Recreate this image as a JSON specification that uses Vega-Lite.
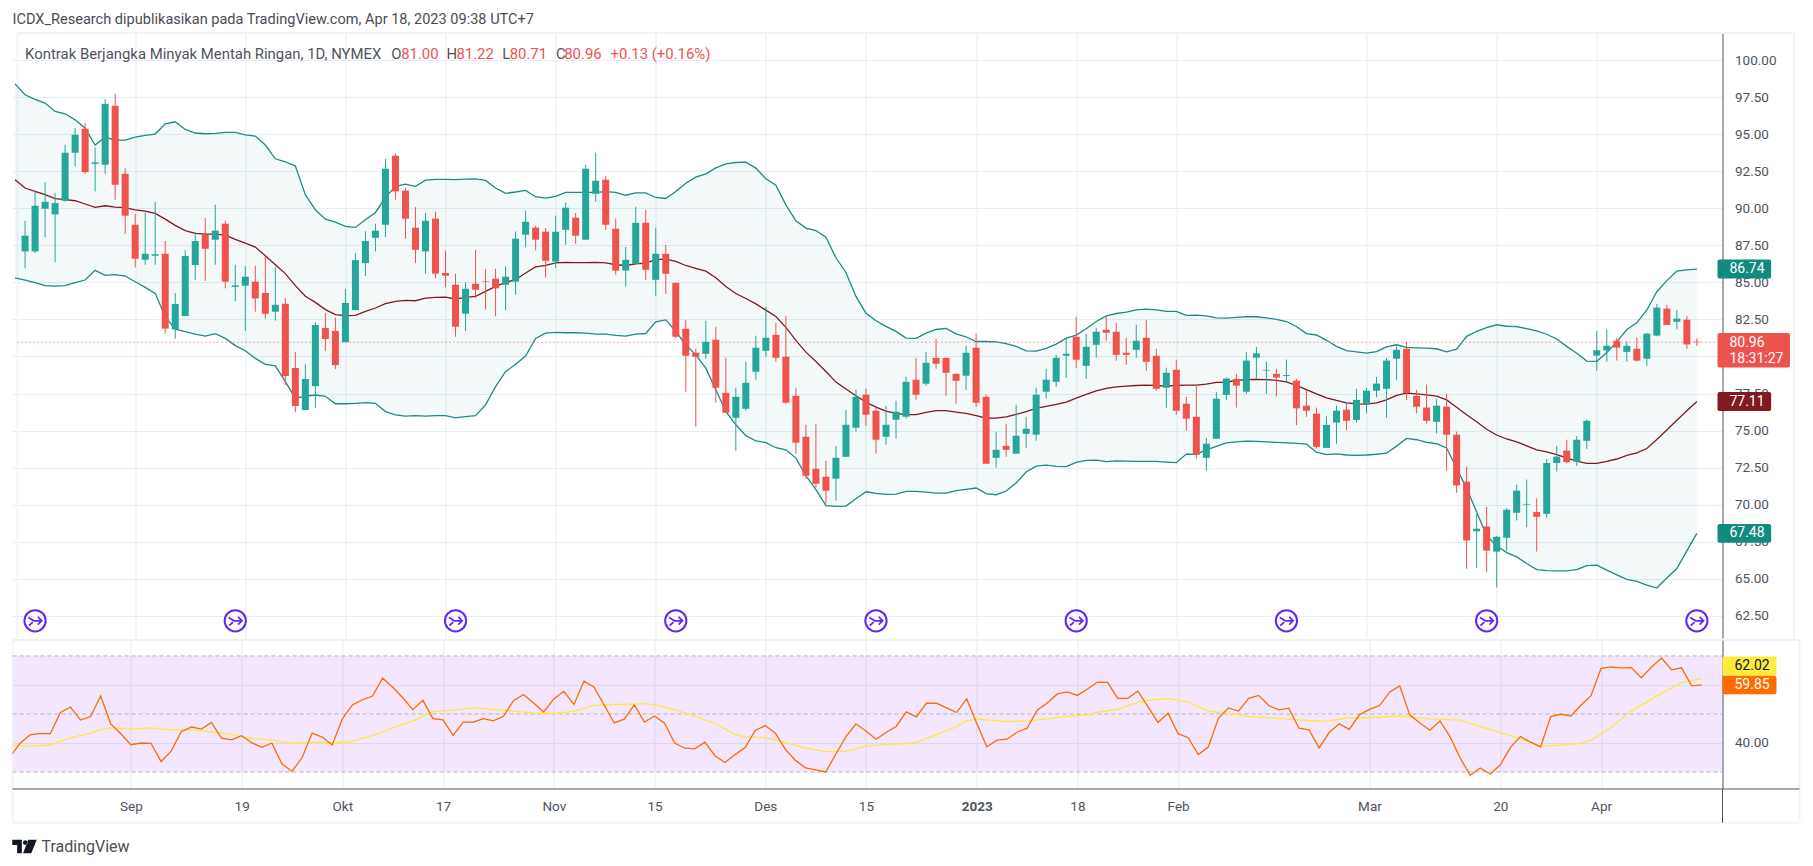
{
  "$schema": "https://vega.github.io/schema/vega-lite/v6.json",
  "background": "#ffffff",
  "padding": {"left": 11.5, "top": 11, "right": 0, "bottom": 0},
  "title": {"text": "ICDX_Research dipublikasikan pada TradingView.com, Apr 18, 2023 09:38 UTC+7", "anchor": "start", "frame": "group", "font": "Roboto", "fontSize": 14.55, "fontWeight": "normal", "color": "#4a4d57", "offset": 4.7},
  "config": {
    "font": "Roboto",
    "view": {"stroke": null},
    "axis": {"title": null, "gridColor": "#e6edf3", "gridWidth": 1, "labelColor": "#50535e", "labelFontSize": 13.5, "labelFont": "Roboto", "ticks": false, "labelOverlap": false}
  },
  "datasets": {
    "candles": [
      {"i":0,"o":87.09,"h":89.16,"l":85.95,"c":88.15},{"i":1,"o":87.09,"h":91.14,"l":86.98,"c":90.17},{"i":2,"o":89.97,"h":91.75,"l":88.04,"c":90.44},{"i":3,"o":89.59,"h":91.03,"l":86.35,"c":90.35},{"i":4,"o":90.51,"h":94.29,"l":90.44,"c":93.75},{"i":5,"o":93.75,"h":95.41,"l":92.83,"c":94.96},{"i":6,"o":95.37,"h":95.75,"l":92.33,"c":92.44},{"i":7,"o":93.0,"h":94.11,"l":91.14,"c":93.1},{"i":8,"o":92.94,"h":97.37,"l":92.33,"c":97.05},{"i":9,"o":96.92,"h":97.73,"l":90.58,"c":91.59},
      {"i":10,"o":92.33,"h":92.71,"l":88.28,"c":89.5},{"i":11,"o":88.89,"h":89.63,"l":86.01,"c":86.6},{"i":12,"o":86.53,"h":89.72,"l":86.19,"c":86.93},{"i":13,"o":86.8,"h":90.44,"l":86.19,"c":86.9},{"i":14,"o":86.93,"h":87.79,"l":81.54,"c":81.88},{"i":15,"o":81.83,"h":84.28,"l":81.2,"c":83.54},{"i":16,"o":82.73,"h":87.18,"l":82.73,"c":86.78},{"i":17,"o":86.17,"h":88.4,"l":85.16,"c":87.79},{"i":18,"o":88.22,"h":89.34,"l":85.11,"c":87.27},{"i":19,"o":87.88,"h":90.24,"l":86.19,"c":88.49},
      {"i":20,"o":88.96,"h":89.16,"l":84.6,"c":85.05},{"i":21,"o":84.7,"h":86.19,"l":83.72,"c":84.8},{"i":22,"o":84.78,"h":86.1,"l":81.72,"c":85.38},{"i":23,"o":85.05,"h":86.13,"l":83.02,"c":83.92},{"i":24,"o":84.28,"h":86.76,"l":82.55,"c":82.89},{"i":25,"o":83.02,"h":86.01,"l":82.42,"c":83.49},{"i":26,"o":83.56,"h":83.94,"l":78.07,"c":78.68},{"i":27,"o":79.22,"h":80.3,"l":76.25,"c":76.66},{"i":28,"o":76.39,"h":79.47,"l":76.39,"c":78.48},{"i":29,"o":78.0,"h":82.3,"l":76.52,"c":82.12},
      {"i":30,"o":81.92,"h":82.93,"l":80.37,"c":81.18},{"i":31,"o":81.72,"h":82.62,"l":79.15,"c":79.42},{"i":32,"o":80.97,"h":84.55,"l":80.97,"c":83.61},{"i":33,"o":83.13,"h":86.98,"l":83.13,"c":86.5},{"i":34,"o":86.3,"h":88.46,"l":85.43,"c":87.79},{"i":35,"o":88.01,"h":88.96,"l":87.09,"c":88.49},{"i":36,"o":88.89,"h":93.34,"l":88.04,"c":92.67},{"i":37,"o":93.55,"h":93.68,"l":90.58,"c":91.14},{"i":38,"o":91.19,"h":91.37,"l":87.95,"c":89.3},{"i":39,"o":88.69,"h":90.08,"l":86.3,"c":87.2},
      {"i":40,"o":87.09,"h":89.68,"l":85.59,"c":89.16},{"i":41,"o":89.3,"h":89.77,"l":85.27,"c":85.59},{"i":42,"o":85.63,"h":87.14,"l":84.66,"c":85.45},{"i":43,"o":84.84,"h":85.59,"l":81.33,"c":82.01},{"i":44,"o":82.89,"h":85.0,"l":81.72,"c":84.57},{"i":45,"o":84.91,"h":87.2,"l":83.94,"c":84.5},{"i":46,"o":85.09,"h":85.9,"l":83.16,"c":85.05},{"i":47,"o":85.25,"h":85.92,"l":82.71,"c":84.6},{"i":48,"o":84.84,"h":86.08,"l":83.11,"c":85.38},{"i":49,"o":85.05,"h":88.44,"l":84.17,"c":87.95},
      {"i":50,"o":88.22,"h":89.86,"l":87.36,"c":89.09},{"i":51,"o":88.69,"h":88.82,"l":87.16,"c":87.88},{"i":52,"o":88.42,"h":88.67,"l":85.32,"c":86.46},{"i":53,"o":86.4,"h":89.5,"l":85.97,"c":88.42},{"i":54,"o":88.55,"h":90.38,"l":87.54,"c":90.04},{"i":55,"o":89.36,"h":89.68,"l":87.61,"c":88.15},{"i":56,"o":87.88,"h":92.94,"l":87.88,"c":92.67},{"i":57,"o":90.98,"h":93.75,"l":90.44,"c":91.86},{"i":58,"o":91.93,"h":92.2,"l":88.55,"c":88.89},{"i":59,"o":88.62,"h":89.3,"l":85.52,"c":85.79},
      {"i":60,"o":85.8,"h":87.4,"l":84.72,"c":86.52},{"i":61,"o":86.25,"h":90.1,"l":86.25,"c":89.02},{"i":62,"o":89.02,"h":89.9,"l":85.17,"c":85.85},{"i":63,"o":85.17,"h":88.68,"l":84.09,"c":86.93},{"i":64,"o":86.93,"h":87.53,"l":84.23,"c":85.58},{"i":65,"o":84.97,"h":84.97,"l":81.22,"c":81.33},{"i":66,"o":81.87,"h":82.47,"l":77.62,"c":80.05},{"i":67,"o":80.25,"h":80.52,"l":75.26,"c":79.98},{"i":68,"o":80.18,"h":82.41,"l":79.84,"c":80.99},{"i":69,"o":81.13,"h":82.0,"l":76.88,"c":77.89},
      {"i":70,"o":77.55,"h":79.91,"l":76.2,"c":76.2},{"i":71,"o":75.86,"h":77.89,"l":73.64,"c":77.28},{"i":72,"o":76.47,"h":79.64,"l":76.34,"c":78.22},{"i":73,"o":78.97,"h":81.4,"l":78.43,"c":80.59},{"i":74,"o":80.38,"h":83.35,"l":79.98,"c":81.26},{"i":75,"o":81.46,"h":82.27,"l":79.64,"c":79.91},{"i":76,"o":79.98,"h":82.74,"l":76.81,"c":76.88},{"i":77,"o":77.35,"h":77.89,"l":73.44,"c":74.18},{"i":78,"o":74.58,"h":75.39,"l":71.75,"c":71.95},{"i":79,"o":72.42,"h":75.46,"l":71.14,"c":71.41},
      {"i":80,"o":71.88,"h":72.96,"l":70.06,"c":70.94},{"i":81,"o":71.75,"h":73.97,"l":70.26,"c":73.16},{"i":82,"o":73.23,"h":76.4,"l":73.23,"c":75.39},{"i":83,"o":75.19,"h":77.75,"l":74.92,"c":77.28},{"i":84,"o":77.42,"h":77.82,"l":75.32,"c":76.07},{"i":85,"o":76.34,"h":76.54,"l":73.44,"c":74.38},{"i":86,"o":74.58,"h":76.67,"l":74.04,"c":75.39},{"i":87,"o":75.73,"h":77.01,"l":74.45,"c":76.27},{"i":88,"o":75.93,"h":78.63,"l":75.8,"c":78.29},{"i":89,"o":78.43,"h":79.91,"l":77.08,"c":77.42},
      {"i":90,"o":78.16,"h":80.32,"l":78.02,"c":79.57},{"i":91,"o":79.91,"h":81.19,"l":79.17,"c":79.51},{"i":92,"o":79.91,"h":79.91,"l":77.35,"c":78.9},{"i":93,"o":78.83,"h":78.83,"l":76.81,"c":78.36},{"i":94,"o":78.7,"h":80.72,"l":77.75,"c":80.25},{"i":95,"o":80.59,"h":81.53,"l":76.6,"c":76.88},{"i":96,"o":77.28,"h":77.42,"l":72.76,"c":72.76},{"i":97,"o":73.16,"h":74.92,"l":72.49,"c":73.7},{"i":98,"o":73.97,"h":75.46,"l":73.23,"c":73.7},{"i":99,"o":73.44,"h":76.74,"l":73.44,"c":74.65},
      {"i":100,"o":74.78,"h":75.93,"l":73.84,"c":75.12},{"i":101,"o":74.72,"h":77.89,"l":74.31,"c":77.42},{"i":102,"o":77.62,"h":79.17,"l":77.15,"c":78.43},{"i":103,"o":78.29,"h":80.11,"l":77.96,"c":79.91},{"i":104,"o":80.05,"h":81.19,"l":78.56,"c":80.18},{"i":105,"o":81.33,"h":82.68,"l":79.24,"c":79.78},{"i":106,"o":79.37,"h":81.53,"l":78.49,"c":80.65},{"i":107,"o":80.79,"h":81.93,"l":79.91,"c":81.67},{"i":108,"o":81.8,"h":82.68,"l":81.06,"c":81.6},{"i":109,"o":81.67,"h":82.27,"l":79.71,"c":80.11},
      {"i":110,"o":80.25,"h":81.26,"l":79.44,"c":80.11},{"i":111,"o":80.45,"h":82.14,"l":79.91,"c":81.06},{"i":112,"o":81.26,"h":82.47,"l":79.03,"c":79.64},{"i":113,"o":80.05,"h":80.52,"l":77.69,"c":77.82},{"i":114,"o":77.89,"h":79.24,"l":76.54,"c":78.9},{"i":115,"o":79.1,"h":79.78,"l":76.07,"c":76.34},{"i":116,"o":76.81,"h":77.28,"l":74.99,"c":75.8},{"i":117,"o":75.93,"h":78.09,"l":73.1,"c":73.37},{"i":118,"o":73.16,"h":74.51,"l":72.29,"c":74.11},{"i":119,"o":74.45,"h":77.62,"l":74.45,"c":77.15},
      {"i":120,"o":77.41,"h":78.58,"l":77.07,"c":78.51},{"i":121,"o":78.49,"h":78.83,"l":76.55,"c":78.03},{"i":122,"o":77.62,"h":80.31,"l":77.48,"c":79.72},{"i":123,"o":79.92,"h":80.65,"l":78.49,"c":80.2},{"i":124,"o":79.05,"h":79.65,"l":77.48,"c":79.1},{"i":125,"o":78.83,"h":79.17,"l":77.3,"c":78.58},{"i":126,"o":78.68,"h":79.79,"l":78.26,"c":78.74},{"i":127,"o":78.37,"h":78.51,"l":75.36,"c":76.5},{"i":128,"o":76.68,"h":77.71,"l":75.93,"c":76.34},{"i":129,"o":76.14,"h":76.55,"l":73.79,"c":73.9},
      {"i":130,"o":73.83,"h":76.0,"l":73.83,"c":75.38},{"i":131,"o":75.54,"h":76.68,"l":74.11,"c":76.34},{"i":132,"o":76.41,"h":76.87,"l":75.02,"c":75.66},{"i":133,"o":75.72,"h":77.82,"l":75.54,"c":77.07},{"i":134,"o":76.8,"h":77.89,"l":76.16,"c":77.69},{"i":135,"o":77.69,"h":78.62,"l":77.25,"c":78.17},{"i":136,"o":77.82,"h":79.9,"l":75.86,"c":79.72},{"i":137,"o":79.85,"h":80.67,"l":78.39,"c":80.45},{"i":138,"o":80.52,"h":80.97,"l":77.07,"c":77.53},{"i":139,"o":77.34,"h":77.75,"l":76.16,"c":76.61},
      {"i":140,"o":76.55,"h":78.1,"l":75.47,"c":75.66},{"i":141,"o":75.59,"h":77.14,"l":74.81,"c":76.68},{"i":142,"o":76.61,"h":77.48,"l":72.28,"c":74.72},{"i":143,"o":74.72,"h":74.93,"l":70.8,"c":71.3},{"i":144,"o":71.55,"h":72.56,"l":65.67,"c":67.58},{"i":145,"o":68.2,"h":69.38,"l":65.73,"c":68.38},{"i":146,"o":68.52,"h":69.86,"l":65.44,"c":66.9},{"i":147,"o":66.83,"h":67.9,"l":64.41,"c":67.83},{"i":148,"o":67.77,"h":69.77,"l":66.88,"c":69.66},{"i":149,"o":69.45,"h":71.35,"l":68.93,"c":70.94},
      {"i":150,"o":70.0,"h":71.69,"l":68.47,"c":70.05},{"i":151,"o":69.5,"h":70.41,"l":66.83,"c":69.18},{"i":152,"o":69.38,"h":73.08,"l":69.11,"c":72.81},{"i":153,"o":72.81,"h":73.95,"l":72.24,"c":73.24},{"i":154,"o":73.65,"h":74.38,"l":72.78,"c":72.87},{"i":155,"o":72.9,"h":74.63,"l":72.62,"c":74.38},{"i":156,"o":74.31,"h":75.75,"l":73.76,"c":75.66},{"i":157,"o":80.06,"h":81.72,"l":79.03,"c":80.42},{"i":158,"o":80.4,"h":81.82,"l":79.65,"c":80.72},{"i":159,"o":81.06,"h":81.27,"l":79.72,"c":80.6},
      {"i":160,"o":80.31,"h":81.0,"l":79.65,"c":80.72},{"i":161,"o":80.52,"h":81.27,"l":79.65,"c":79.72},{"i":162,"o":79.85,"h":81.59,"l":79.37,"c":81.54},{"i":163,"o":81.41,"h":83.55,"l":81.36,"c":83.3},{"i":164,"o":83.23,"h":83.5,"l":82.13,"c":82.13},{"i":165,"o":82.34,"h":83.14,"l":81.82,"c":82.55},{"i":166,"o":82.48,"h":82.73,"l":80.52,"c":80.81},{"i":167,"o":81.0,"h":81.22,"l":80.71,"c":80.96}
    ],
    "bands": [
      {"i":-1,"upper":98.4,"basis":91.93,"lower":85.31},{"i":0,"upper":97.66,"basis":91.37,"lower":85.16},{"i":1,"upper":97.35,"basis":91.14,"lower":84.98},{"i":2,"upper":97.1,"basis":90.92,"lower":84.78},{"i":3,"upper":96.54,"basis":90.65,"lower":84.75},{"i":4,"upper":96.38,"basis":90.58,"lower":84.78},{"i":5,"upper":95.97,"basis":90.51,"lower":84.98},{"i":6,"upper":95.41,"basis":90.29,"lower":85.16},{"i":7,"upper":94.27,"basis":90.06,"lower":85.81},{"i":8,"upper":94.81,"basis":90.17,"lower":85.47},{"i":9,"upper":94.6,"basis":90.08,"lower":85.52},
      {"i":10,"upper":94.6,"basis":90.04,"lower":85.43},{"i":11,"upper":94.81,"basis":89.9,"lower":85.04},{"i":12,"upper":94.92,"basis":89.81,"lower":84.66},{"i":13,"upper":95.01,"basis":89.66,"lower":84.26},{"i":14,"upper":95.7,"basis":89.27,"lower":82.68},{"i":15,"upper":95.84,"basis":88.85,"lower":81.85},{"i":16,"upper":95.32,"basis":88.49,"lower":81.67},{"i":17,"upper":95.08,"basis":88.31,"lower":81.51},{"i":18,"upper":95.03,"basis":88.26,"lower":81.38},{"i":19,"upper":95.05,"basis":88.26,"lower":81.54},
      {"i":20,"upper":95.12,"basis":88.19,"lower":81.22},{"i":21,"upper":95.12,"basis":87.9,"lower":80.73},{"i":22,"upper":94.96,"basis":87.65,"lower":80.39},{"i":23,"upper":94.87,"basis":87.38,"lower":79.87},{"i":24,"upper":94.27,"basis":86.8,"lower":79.47},{"i":25,"upper":93.34,"basis":86.19,"lower":79.36},{"i":26,"upper":93.14,"basis":85.59,"lower":78.3},{"i":27,"upper":92.85,"basis":84.78,"lower":77.17},{"i":28,"upper":90.92,"basis":84.06,"lower":77.33},{"i":29,"upper":89.9,"basis":83.65,"lower":77.4},
      {"i":30,"upper":89.27,"basis":83.16,"lower":77.31},{"i":31,"upper":89.07,"basis":82.82,"lower":76.81},{"i":32,"upper":88.78,"basis":82.75,"lower":76.81},{"i":33,"upper":88.71,"basis":82.77,"lower":76.84},{"i":34,"upper":89.23,"basis":83.04,"lower":76.88},{"i":35,"upper":89.72,"basis":83.27,"lower":76.84},{"i":36,"upper":90.74,"basis":83.56,"lower":76.28},{"i":37,"upper":91.48,"basis":83.72,"lower":76.06},{"i":38,"upper":91.63,"basis":83.79,"lower":75.97},{"i":39,"upper":91.48,"basis":83.76,"lower":76.01},
      {"i":40,"upper":91.9,"basis":83.94,"lower":75.97},{"i":41,"upper":91.95,"basis":83.99,"lower":76.01},{"i":42,"upper":91.95,"basis":84.01,"lower":76.01},{"i":43,"upper":91.93,"basis":83.88,"lower":75.86},{"i":44,"upper":91.97,"basis":83.99,"lower":75.94},{"i":45,"upper":91.99,"basis":84.06,"lower":76.01},{"i":46,"upper":91.88,"basis":84.39,"lower":76.73},{"i":47,"upper":91.37,"basis":84.73,"lower":77.96},{"i":48,"upper":91.01,"basis":85.0,"lower":78.97},{"i":49,"upper":91.1,"basis":85.18,"lower":79.47},
      {"i":50,"upper":91.21,"basis":85.63,"lower":80.03},{"i":51,"upper":90.78,"basis":86.04,"lower":81.22},{"i":52,"upper":90.69,"basis":86.15,"lower":81.58},{"i":53,"upper":90.8,"basis":86.31,"lower":81.63},{"i":54,"upper":91.07,"basis":86.35,"lower":81.6},{"i":55,"upper":91.07,"basis":86.33,"lower":81.6},{"i":56,"upper":91.07,"basis":86.33,"lower":81.58},{"i":57,"upper":91.07,"basis":86.35,"lower":81.51},{"i":58,"upper":91.12,"basis":86.31,"lower":81.51},{"i":59,"upper":91.07,"basis":86.19,"lower":81.42},
      {"i":60,"upper":90.88,"basis":86.14,"lower":81.37},{"i":61,"upper":91.04,"basis":86.25,"lower":81.51},{"i":62,"upper":91.04,"basis":86.3,"lower":81.55},{"i":63,"upper":90.73,"basis":86.54,"lower":82.34},{"i":64,"upper":90.66,"basis":86.57,"lower":82.47},{"i":65,"upper":91.13,"basis":86.41,"lower":81.69},{"i":66,"upper":91.69,"basis":86.14,"lower":80.79},{"i":67,"upper":92.1,"basis":85.94,"lower":80.11},{"i":68,"upper":92.32,"basis":85.76,"lower":79.21},{"i":69,"upper":92.73,"basis":85.31,"lower":77.75},
      {"i":70,"upper":93.0,"basis":84.72,"lower":76.29},{"i":71,"upper":93.09,"basis":84.25,"lower":75.39},{"i":72,"upper":93.11,"basis":83.91,"lower":74.65},{"i":73,"upper":92.71,"basis":83.55,"lower":74.31},{"i":74,"upper":91.99,"basis":83.13,"lower":74.18},{"i":75,"upper":91.56,"basis":82.7,"lower":73.84},{"i":76,"upper":90.23,"basis":81.96,"lower":73.7},{"i":77,"upper":89.15,"basis":81.08,"lower":73.14},{"i":78,"upper":88.66,"basis":80.29,"lower":71.95},{"i":79,"upper":88.5,"basis":79.66,"lower":71.01},
      {"i":80,"upper":88.05,"basis":78.99,"lower":69.93},{"i":81,"upper":86.66,"basis":78.27,"lower":69.88},{"i":82,"upper":85.67,"basis":77.8,"lower":69.9},{"i":83,"upper":84.05,"basis":77.35,"lower":70.4},{"i":84,"upper":82.92,"basis":76.92,"lower":70.87},{"i":85,"upper":82.41,"basis":76.58,"lower":70.76},{"i":86,"upper":82.03,"basis":76.31,"lower":70.69},{"i":87,"upper":81.69,"basis":76.16,"lower":70.71},{"i":88,"upper":81.24,"basis":76.07,"lower":70.89},{"i":89,"upper":81.22,"basis":76.07,"lower":70.89},
      {"i":90,"upper":81.58,"basis":76.22,"lower":70.85},{"i":91,"upper":81.82,"basis":76.34,"lower":70.78},{"i":92,"upper":81.89,"basis":76.34,"lower":70.78},{"i":93,"upper":81.53,"basis":76.25,"lower":70.94},{"i":94,"upper":81.33,"basis":76.16,"lower":71.03},{"i":95,"upper":81.01,"basis":76.0,"lower":71.12},{"i":96,"upper":81.01,"basis":75.84,"lower":70.74},{"i":97,"upper":80.99,"basis":75.84,"lower":70.67},{"i":98,"upper":80.86,"basis":75.93,"lower":70.92},{"i":99,"upper":80.68,"basis":76.09,"lower":71.46},
      {"i":100,"upper":80.38,"basis":76.27,"lower":72.2},{"i":101,"upper":80.36,"basis":76.49,"lower":72.6},{"i":102,"upper":80.54,"basis":76.63,"lower":72.67},{"i":103,"upper":80.83,"basis":76.76,"lower":72.58},{"i":104,"upper":81.24,"basis":76.92,"lower":72.56},{"i":105,"upper":81.44,"basis":77.19,"lower":72.85},{"i":106,"upper":81.87,"basis":77.44,"lower":72.99},{"i":107,"upper":82.36,"basis":77.68,"lower":73.01},{"i":108,"upper":82.74,"basis":77.84,"lower":72.9},{"i":109,"upper":82.9,"basis":77.95,"lower":72.96},
      {"i":110,"upper":82.99,"basis":78.0,"lower":72.94},{"i":111,"upper":83.15,"basis":78.04,"lower":72.92},{"i":112,"upper":83.19,"basis":78.07,"lower":72.92},{"i":113,"upper":83.15,"basis":78.04,"lower":72.92},{"i":114,"upper":83.04,"basis":78.0,"lower":72.87},{"i":115,"upper":83.04,"basis":78.04,"lower":72.83},{"i":116,"upper":82.77,"basis":78.07,"lower":73.41},{"i":117,"upper":82.79,"basis":78.07,"lower":73.39},{"i":118,"upper":82.74,"basis":78.13,"lower":73.7},{"i":119,"upper":82.61,"basis":78.25,"lower":73.93},
      {"i":120,"upper":82.59,"basis":78.26,"lower":74.17},{"i":121,"upper":82.64,"basis":78.39,"lower":74.24},{"i":122,"upper":82.68,"basis":78.44,"lower":74.29},{"i":123,"upper":82.68,"basis":78.46,"lower":74.27},{"i":124,"upper":82.61,"basis":78.44,"lower":74.24},{"i":125,"upper":82.5,"basis":78.39,"lower":74.2},{"i":126,"upper":82.36,"basis":78.28,"lower":74.17},{"i":127,"upper":82.02,"basis":78.05,"lower":74.13},{"i":128,"upper":81.54,"basis":77.76,"lower":74.08},{"i":129,"upper":81.45,"basis":77.48,"lower":73.54},
      {"i":130,"upper":81.09,"basis":77.21,"lower":73.38},{"i":131,"upper":80.68,"basis":77.03,"lower":73.42},{"i":132,"upper":80.4,"basis":76.87,"lower":73.35},{"i":133,"upper":80.31,"basis":76.8,"lower":73.33},{"i":134,"upper":80.22,"basis":76.78,"lower":73.35},{"i":135,"upper":80.33,"basis":76.87,"lower":73.4},{"i":136,"upper":80.65,"basis":77.07,"lower":73.47},{"i":137,"upper":80.79,"basis":77.37,"lower":73.95},{"i":138,"upper":80.61,"basis":77.53,"lower":74.47},{"i":139,"upper":80.58,"basis":77.48,"lower":74.38},
      {"i":140,"upper":80.56,"basis":77.41,"lower":74.2},{"i":141,"upper":80.52,"basis":77.32,"lower":74.11},{"i":142,"upper":80.31,"basis":77.07,"lower":73.83},{"i":143,"upper":80.49,"basis":76.57,"lower":72.46},{"i":144,"upper":81.36,"basis":76.07,"lower":71.1},{"i":145,"upper":81.7,"basis":75.59,"lower":69.5},{"i":146,"upper":81.95,"basis":75.09,"lower":67.9},{"i":147,"upper":82.14,"basis":74.7,"lower":67.22},{"i":148,"upper":82.04,"basis":74.43,"lower":66.76},{"i":149,"upper":82.02,"basis":74.24,"lower":66.47},
      {"i":150,"upper":81.88,"basis":73.97,"lower":66.03},{"i":151,"upper":81.72,"basis":73.7,"lower":65.62},{"i":152,"upper":81.5,"basis":73.56,"lower":65.55},{"i":153,"upper":81.18,"basis":73.38,"lower":65.53},{"i":154,"upper":80.68,"basis":73.15,"lower":65.53},{"i":155,"upper":80.22,"basis":72.94,"lower":65.62},{"i":156,"upper":79.69,"basis":72.78,"lower":65.89},{"i":157,"upper":79.67,"basis":72.78,"lower":65.92},{"i":158,"upper":80.26,"basis":72.92,"lower":65.58},{"i":159,"upper":80.99,"basis":73.08,"lower":65.26},
      {"i":160,"upper":81.82,"basis":73.33,"lower":64.96},{"i":161,"upper":82.27,"basis":73.49,"lower":64.82},{"i":162,"upper":83.14,"basis":73.79,"lower":64.57},{"i":163,"upper":84.37,"basis":74.4,"lower":64.37},{"i":164,"upper":85.12,"basis":75.04,"lower":65.05},{"i":165,"upper":85.76,"basis":75.7,"lower":65.69},{"i":166,"upper":85.85,"basis":76.34,"lower":66.88},{"i":167,"upper":85.9,"basis":76.96,"lower":68.06}
    ],
    "rsi": [
      {"i":-1,"v":35.3},{"i":0,"v":39.9},{"i":1,"v":42.8},{"i":2,"v":43.3},{"i":3,"v":43.2},{"i":4,"v":50.5},{"i":5,"v":52.4},{"i":6,"v":47.9},{"i":7,"v":49.1},{"i":8,"v":56.2},{"i":9,"v":46.6},{"i":10,"v":43.2},{"i":11,"v":39.4},{"i":12,"v":40.0},{"i":13,"v":39.9},{"i":14,"v":33.6},{"i":15,"v":37.2},{"i":16,"v":43.9},{"i":17,"v":45.5},{"i":18,"v":44.8},{"i":19,"v":47.1},{"i":20,"v":41.7},{"i":21,"v":41.1},{"i":22,"v":42.5},{"i":23,"v":40.1},{"i":24,"v":38.5},{"i":25,"v":40.0},{"i":26,"v":32.8},{"i":27,"v":30.2},{"i":28,"v":34.9},{"i":29,"v":43.4},{"i":30,"v":42.0},{"i":31,"v":39.3},{"i":32,"v":48.3},{"i":33,"v":53.1},{"i":34,"v":54.9},{"i":35,"v":56.2},{"i":36,"v":62.4},{"i":37,"v":59.2},{"i":38,"v":55.6},{"i":39,"v":51.5},{"i":40,"v":54.7},{"i":41,"v":48.4},{"i":42,"v":48.0},{"i":43,"v":42.6},{"i":44,"v":47.2},{"i":45,"v":47.2},{"i":46,"v":48.4},{"i":47,"v":47.6},{"i":48,"v":49.2},{"i":49,"v":54.6},{"i":50,"v":56.7},{"i":51,"v":53.8},{"i":52,"v":50.7},{"i":53,"v":55.2},{"i":54,"v":57.8},{"i":55,"v":53.3},{"i":56,"v":61.3},{"i":57,"v":59.2},{"i":58,"v":53.1},{"i":59,"v":46.9},
      {"i":60,"v":48.2},{"i":61,"v":53.1},{"i":62,"v":47.2},{"i":63,"v":49.3},{"i":64,"v":46.8},{"i":65,"v":40.0},{"i":66,"v":38.2},{"i":67,"v":38.0},{"i":68,"v":40.3},{"i":69,"v":35.6},{"i":70,"v":33.3},{"i":71,"v":36.0},{"i":72,"v":38.4},{"i":73,"v":44.3},{"i":74,"v":46.0},{"i":75,"v":43.4},{"i":76,"v":37.8},{"i":77,"v":34.0},{"i":78,"v":31.4},{"i":79,"v":30.7},{"i":80,"v":30.0},{"i":81,"v":36.1},{"i":82,"v":42.1},{"i":83,"v":46.6},{"i":84,"v":44.1},{"i":85,"v":41.3},{"i":86,"v":43.6},{"i":87,"v":45.7},{"i":88,"v":50.7},{"i":89,"v":49.0},{"i":90,"v":53.7},{"i":91,"v":53.7},{"i":92,"v":52.1},{"i":93,"v":50.5},{"i":94,"v":55.2},{"i":95,"v":46.8},{"i":96,"v":38.7},{"i":97,"v":41.0},{"i":98,"v":41.3},{"i":99,"v":43.7},{"i":100,"v":45.1},{"i":101,"v":51.3},{"i":102,"v":53.8},{"i":103,"v":56.9},{"i":104,"v":57.6},{"i":105,"v":56.4},{"i":106,"v":58.6},{"i":107,"v":61.0},{"i":108,"v":60.9},{"i":109,"v":55.4},{"i":110,"v":55.4},{"i":111,"v":57.9},{"i":112,"v":52.5},{"i":113,"v":47.1},{"i":114,"v":50.3},{"i":115,"v":43.2},{"i":116,"v":41.8},{"i":117,"v":36.0},{"i":118,"v":38.6},{"i":119,"v":48.5},
      {"i":120,"v":52.1},{"i":121,"v":51.0},{"i":122,"v":55.4},{"i":123,"v":56.4},{"i":124,"v":52.9},{"i":125,"v":51.4},{"i":126,"v":52.0},{"i":127,"v":45.1},{"i":128,"v":44.5},{"i":129,"v":38.3},{"i":130,"v":43.6},{"i":131,"v":46.6},{"i":132,"v":44.7},{"i":133,"v":49.7},{"i":134,"v":51.6},{"i":135,"v":52.9},{"i":136,"v":57.5},{"i":137,"v":59.7},{"i":138,"v":49.7},{"i":139,"v":46.9},{"i":140,"v":44.4},{"i":141,"v":47.6},{"i":142,"v":42.2},{"i":143,"v":34.9},{"i":144,"v":28.9},{"i":145,"v":31.4},{"i":146,"v":29.3},{"i":147,"v":32.5},{"i":148,"v":38.5},{"i":149,"v":42.2},{"i":150,"v":40.3},{"i":151,"v":38.7},{"i":152,"v":49.1},{"i":153,"v":49.9},{"i":154,"v":49.3},{"i":155,"v":53.0},{"i":156,"v":56.3},{"i":157,"v":65.7},{"i":158,"v":66.2},{"i":159,"v":65.9},{"i":160,"v":66.0},{"i":161,"v":62.5},{"i":162,"v":66.1},{"i":163,"v":69.3},{"i":164,"v":65.2},{"i":165,"v":65.9},{"i":166,"v":59.7},{"i":167,"v":60.0}
    ],
    "signal": [
      {"i":-1,"v":39.2},{"i":1,"v":38.9},{"i":3,"v":39.3},{"i":5,"v":41.8},{"i":7,"v":43.4},{"i":8,"v":44.7},{"i":9,"v":45.2},{"i":11,"v":44.8},{"i":13,"v":45.2},{"i":15,"v":44.5},{"i":17,"v":44.5},{"i":19,"v":43.8},{"i":21,"v":43.0},{"i":23,"v":41.5},{"i":25,"v":41.0},{"i":27,"v":39.9},{"i":29,"v":40.3},{"i":31,"v":40.0},{"i":33,"v":40.6},{"i":35,"v":42.5},{"i":37,"v":45.2},{"i":39,"v":47.6},{"i":41,"v":50.8},{"i":43,"v":51.3},{"i":45,"v":52.1},{"i":47,"v":51.6},{"i":49,"v":51.0},{"i":51,"v":50.3},{"i":53,"v":50.2},{"i":55,"v":50.9},{"i":57,"v":53.0},{"i":59,"v":53.3},{"i":60,"v":53.3},{"i":62,"v":53.6},{"i":63,"v":53.2},{"i":65,"v":51.4},{"i":67,"v":49.3},{"i":69,"v":46.7},{"i":71,"v":43.0},{"i":72,"v":42.2},{"i":74,"v":41.8},{"i":76,"v":40.1},{"i":78,"v":38.2},{"i":80,"v":37.0},{"i":82,"v":37.1},{"i":84,"v":38.9},{"i":86,"v":39.5},{"i":88,"v":39.8},{"i":89,"v":40.2},{"i":91,"v":42.8},{"i":93,"v":45.6},{"i":94,"v":47.6},{"i":95,"v":48.2},{"i":98,"v":47.4},{"i":100,"v":47.6},{"i":102,"v":48.3},{"i":104,"v":49.2},{"i":106,"v":49.7},{"i":107,"v":50.6},{"i":109,"v":51.6},{"i":111,"v":54.0},{"i":112,"v":54.7},{"i":114,"v":55.4},{"i":116,"v":54.1},{"i":118,"v":51.0},{"i":119,"v":50.6},{"i":120,"v":50.2},{"i":122,"v":49.1},{"i":125,"v":48.5},{"i":127,"v":48.0},{"i":129,"v":47.5},{"i":130,"v":47.6},{"i":132,"v":48.7},{"i":134,"v":48.7},{"i":137,"v":49.3},{"i":140,"v":48.3},{"i":143,"v":47.9},{"i":146,"v":44.6},{"i":148,"v":42.5},{"i":151,"v":39.0},{"i":152,"v":39.0},{"i":155,"v":39.9},{"i":156,"v":41.0},{"i":157,"v":43.0},{"i":158,"v":45.5},{"i":160,"v":51.0},{"i":163,"v":57.1},{"i":165,"v":60.8},{"i":167,"v":62.2}
    ],
    "icons": [
      {"i":1,"v":62.16},{"i":21,"v":62.16},{"i":43,"v":62.16},{"i":65,"v":62.16},{"i":85,"v":62.16},{"i":105,"v":62.16},{"i":126,"v":62.16},{"i":146,"v":62.16},{"i":167,"v":62.16}
    ],
    "sides": [{"at":-0.755},{"at":176.7}]
  },
  "spacing": 0,
  "vconcat": [
    {
      "width": 1710,
      "height": 605,
      "encoding": {
        "x": {"field": "i", "type": "quantitative", "title": null, "scale": {"domain": [-0.755, 169.06], "nice": false, "zero": false},
          "axis": {"values": [11,22,32,42,53,63,74,84,95,105,115,134,147,157], "labels": false, "domain": false, "grid": true}}
      },
      "layer": [
        {
          "data": {"name": "sides"},
          "mark": {"type": "rule", "color": "#f0f3fa", "strokeWidth": 2},
          "encoding": {"x": {"field": "at", "type": "quantitative"}}
        },
        {
          "data": {"values": [{"v": 101.83, "a": -0.755, "b": 176.7}]},
          "mark": {"type": "rule", "color": "#f0f3fa", "strokeWidth": 2},
          "encoding": {
            "x": {"field": "a", "type": "quantitative"},
            "x2": {"field": "b"},
            "y": {"field": "v", "type": "quantitative", "title": null, "scale": {"domain": [61, 101.83], "nice": false, "zero": false},
              "axis": {"orient": "right", "values": [62.5,65,67.5,70,72.5,75,77.5,80,82.5,85,87.5,90,92.5,95,97.5,100], "format": ".2f", "grid": true, "domain": true, "domainColor": "#50535e", "labelPadding": 12}}
          }
        },
        {
          "data": {"name": "bands"},
          "mark": {"type": "area", "color": "#138484", "opacity": 0.05, "clip": true},
          "encoding": {
            "y": {"field": "upper", "type": "quantitative", "title": null},
            "y2": {"field": "lower"}
          }
        },
        {
          "data": {"name": "bands"},
          "mark": {"type": "line", "color": "#1f8a85", "strokeWidth": 1.3, "clip": true},
          "encoding": {"y": {"field": "upper", "type": "quantitative", "title": null}}
        },
        {
          "data": {"name": "bands"},
          "mark": {"type": "line", "color": "#1f8a85", "strokeWidth": 1.3, "clip": true},
          "encoding": {"y": {"field": "lower", "type": "quantitative", "title": null}}
        },
        {
          "data": {"name": "bands"},
          "mark": {"type": "line", "color": "#801922", "strokeWidth": 1.3, "clip": true},
          "encoding": {"y": {"field": "basis", "type": "quantitative", "title": null}}
        },
        {
          "data": {"values": [{"price": 80.96, "a": -0.755, "b": 169.06}]},
          "mark": {"type": "rule", "color": "#ef5350", "strokeWidth": 1, "strokeDash": [1, 3]},
          "encoding": {"x": {"field": "a", "type": "quantitative"}, "x2": {"field": "b"}, "y": {"field": "price", "type": "quantitative", "title": null}}
        },
        {
          "data": {"name": "candles"},
          "mark": {"type": "rule", "strokeWidth": 1},
          "encoding": {
            "y": {"field": "h", "type": "quantitative", "title": null},
            "y2": {"field": "l"},
            "color": {"condition": {"test": "datum.c >= datum.o", "value": "#26a69a"}, "value": "#ef5350"}
          }
        },
        {
          "data": {"name": "candles"},
          "mark": {"type": "bar", "size": 7},
          "encoding": {
            "y": {"field": "o", "type": "quantitative", "title": null},
            "y2": {"field": "c"},
            "color": {"condition": {"test": "datum.c >= datum.o", "value": "#26a69a"}, "value": "#ef5350"}
          }
        },
        {
          "data": {"name": "icons"},
          "mark": {"type": "point", "shape": "circle", "size": 452, "filled": false, "color": "#6426f5", "strokeWidth": 2, "opacity": 1},
          "encoding": {"y": {"field": "v", "type": "quantitative", "title": null}}
        },
        {
          "data": {"name": "icons"},
          "mark": {"type": "point", "shape": "M-0.6,-0.3 L-0.1,0 L0.6,0 M0.25,-0.35 L0.6,0 L0.25,0.35 M-0.2,0.12 L-0.55,0.42", "size": 500, "filled": false, "color": "#6426f5", "strokeWidth": 1.7, "opacity": 1},
          "encoding": {"y": {"field": "v", "type": "quantitative", "title": null}}
        },
        {
          "data": {"values": [
            {"i": 0.0, "part": "name", "text": "Kontrak Berjangka Minyak Mentah Ringan, 1D, NYMEX"},
            {"i": 36.58, "part": "name", "text": "O"},
            {"i": 37.57, "part": "value", "text": "81.00"},
            {"i": 42.1, "part": "name", "text": "H"},
            {"i": 43.09, "part": "value", "text": "81.22"},
            {"i": 47.66, "part": "name", "text": "L"},
            {"i": 48.41, "part": "value", "text": "80.71"},
            {"i": 53.03, "part": "name", "text": "C"},
            {"i": 53.86, "part": "value", "text": "80.96"},
            {"i": 58.49, "part": "value", "text": "+0.13 (+0.16%)"}
          ]},
          "mark": {"type": "text", "align": "left", "baseline": "middle", "fontSize": 14.9},
          "encoding": {
            "y": {"datum": 100.35, "type": "quantitative"},
            "text": {"field": "text", "type": "nominal"},
            "color": {"field": "part", "type": "nominal", "legend": null, "scale": {"domain": ["name", "value"], "range": ["#50535e", "#ef5350"]}}
          }
        },
        {
          "data": {"values": [
            {"label": "86.74", "a": 169.06, "b": 174.42, "lo": 85.26, "hi": 86.54},
            {"label": "67.48", "a": 169.06, "b": 174.42, "lo": 67.42, "hi": 68.7}
          ]},
          "mark": {"type": "rect", "cornerRadius": 2, "color": "#138a80"},
          "encoding": {
            "x": {"field": "a", "type": "quantitative"},
            "x2": {"field": "b"},
            "y": {"field": "lo", "type": "quantitative", "title": null},
            "y2": {"field": "hi"}
          }
        },
        {
          "data": {"values": [{"label": "77.11", "a": 169.06, "b": 174.42, "lo": 76.32, "hi": 77.6}]},
          "mark": {"type": "rect", "cornerRadius": 2, "color": "#801922"},
          "encoding": {
            "x": {"field": "a", "type": "quantitative"},
            "x2": {"field": "b"},
            "y": {"field": "lo", "type": "quantitative", "title": null},
            "y2": {"field": "hi"}
          }
        },
        {
          "data": {"values": [{"a": 169.06, "b": 176.3, "lo": 79.26, "hi": 81.59}]},
          "mark": {"type": "rect", "cornerRadius": 2, "color": "#ef5350"},
          "encoding": {
            "x": {"field": "a", "type": "quantitative"},
            "x2": {"field": "b"},
            "y": {"field": "lo", "type": "quantitative", "title": null},
            "y2": {"field": "hi"}
          }
        },
        {
          "data": {"values": [
            {"label": "86.74", "at": 85.9, "a": 170.25},
            {"label": "77.11", "at": 76.96, "a": 170.25},
            {"label": "67.48", "at": 68.06, "a": 170.25},
            {"label": "80.96", "at": 80.9, "a": 170.25},
            {"label": "18:31:27", "at": 79.83, "a": 170.25}
          ]},
          "mark": {"type": "text", "align": "left", "baseline": "middle", "fontSize": 14, "color": "#ffffff"},
          "encoding": {
            "x": {"field": "a", "type": "quantitative"},
            "y": {"field": "at", "type": "quantitative", "title": null},
            "text": {"field": "label", "type": "nominal"}
          }
        }
      ]
    },
    {
      "width": 1710,
      "height": 149,
      "encoding": {
        "x": {"field": "i", "type": "quantitative", "title": null, "scale": {"domain": [-0.755, 169.06], "nice": false, "zero": false},
          "axis": {"values": [11,22,32,42,53,63,74,84,95,105,115,134,147,157], "domain": false, "grid": true, "labelPadding": 10,
            "labelExpr": "{'11':'Sep','22':'19','32':'Okt','42':'17','53':'Nov','63':'15','74':'Des','84':'15','95':'2023','105':'18','115':'Feb','134':'Mar','147':'20','157':'Apr'}[datum.value]",
            "labelFontWeight": {"condition": {"test": "datum.value === 95", "value": "bold"}, "value": "normal"}}}
      },
      "layer": [
        {
          "data": {"values": [{"lo": 30, "hi": 70, "a": -0.755, "b": 169.06}]},
          "mark": {"type": "rect", "color": "#9005ee", "opacity": 0.1},
          "encoding": {
            "x": {"field": "a", "type": "quantitative"},
            "x2": {"field": "b"},
            "y": {"field": "lo", "type": "quantitative", "title": null, "scale": {"domain": [24.14, 75.5], "nice": false, "zero": false},
              "axis": {"orient": "right", "values": [40, 60], "format": ".2f", "grid": true, "domain": true, "domainColor": "#50535e", "labelPadding": 12}},
            "y2": {"field": "hi"}
          }
        },
        {
          "data": {"name": "sides"},
          "mark": {"type": "rule", "color": "#f0f3fa", "strokeWidth": 2},
          "encoding": {
            "x": {"field": "at", "type": "quantitative"},
            "y": {"datum": 75.5, "type": "quantitative"},
            "y2": {"datum": 12.5}
          }
        },
        {
          "data": {"values": [{"a": -0.755, "b": 176.7}]},
          "mark": {"type": "rule", "color": "#f0f3fa", "strokeWidth": 2},
          "encoding": {
            "x": {"field": "a", "type": "quantitative"},
            "x2": {"field": "b"},
            "y": {"datum": 12.5, "type": "quantitative"}
          }
        },
        {
          "data": {"values": [{"a": -0.755, "b": 176.7}]},
          "mark": {"type": "rule", "color": "#e0e3eb", "strokeWidth": 1},
          "encoding": {
            "x": {"field": "a", "type": "quantitative"},
            "x2": {"field": "b"},
            "y": {"datum": 75.5, "type": "quantitative"}
          }
        },
        {
          "data": {"values": [{"a": -0.755, "b": 176.7}]},
          "mark": {"type": "rule", "color": "#50535e", "strokeWidth": 1},
          "encoding": {
            "x": {"field": "a", "type": "quantitative"},
            "x2": {"field": "b"},
            "y": {"datum": 24.14, "type": "quantitative"}
          }
        },
        {
          "data": {"values": [{"a": 169.06}]},
          "mark": {"type": "rule", "color": "#50535e", "strokeWidth": 1},
          "encoding": {
            "x": {"field": "a", "type": "quantitative"},
            "y": {"datum": 24.14, "type": "quantitative"},
            "y2": {"datum": 12.5}
          }
        },
        {
          "data": {"values": [{"level": 30, "a": -0.755, "b": 169.06}, {"level": 50, "a": -0.755, "b": 169.06}, {"level": 70, "a": -0.755, "b": 169.06}]},
          "mark": {"type": "rule", "color": "#b2b5be", "strokeWidth": 1, "strokeDash": [4, 3]},
          "encoding": {"x": {"field": "a", "type": "quantitative"}, "x2": {"field": "b"}, "y": {"field": "level", "type": "quantitative", "title": null}}
        },
        {
          "data": {"name": "signal"},
          "mark": {"type": "line", "color": "#ffe83b", "strokeWidth": 1.3, "clip": true},
          "encoding": {"y": {"field": "v", "type": "quantitative", "title": null}}
        },
        {
          "data": {"name": "rsi"},
          "mark": {"type": "line", "color": "#ff6d00", "strokeWidth": 1.3, "clip": true},
          "encoding": {"y": {"field": "v", "type": "quantitative", "title": null}}
        },
        {
          "data": {"values": [{"a": 169.06, "b": 174.42, "lo": 63.2, "hi": 69.8}]},
          "mark": {"type": "rect", "cornerRadius": 2, "color": "#ffeb3b"},
          "encoding": {
            "x": {"field": "a", "type": "quantitative"},
            "x2": {"field": "b"},
            "y": {"field": "lo", "type": "quantitative", "title": null},
            "y2": {"field": "hi"}
          }
        },
        {
          "data": {"values": [{"a": 169.06, "b": 174.42, "lo": 56.8, "hi": 63.2}]},
          "mark": {"type": "rect", "cornerRadius": 2, "color": "#ff6d00"},
          "encoding": {
            "x": {"field": "a", "type": "quantitative"},
            "x2": {"field": "b"},
            "y": {"field": "lo", "type": "quantitative", "title": null},
            "y2": {"field": "hi"}
          }
        },
        {
          "data": {"values": [{"label": "62.02", "at": 66.5, "a": 170.25}]},
          "mark": {"type": "text", "align": "left", "baseline": "middle", "fontSize": 14, "color": "#131722"},
          "encoding": {
            "x": {"field": "a", "type": "quantitative"},
            "y": {"field": "at", "type": "quantitative", "title": null},
            "text": {"field": "label", "type": "nominal"}
          }
        },
        {
          "data": {"values": [{"label": "59.85", "at": 60, "a": 170.25}]},
          "mark": {"type": "text", "align": "left", "baseline": "middle", "fontSize": 14, "color": "#ffffff"},
          "encoding": {
            "x": {"field": "a", "type": "quantitative"},
            "y": {"field": "at", "type": "quantitative", "title": null},
            "text": {"field": "label", "type": "nominal"}
          }
        }
      ]
    },
    {
      "width": 1710,
      "height": 45,
      "encoding": {
        "x": {"field": "i", "type": "quantitative", "title": null, "axis": null, "scale": {"domain": [-0.755, 169.06], "nice": false, "zero": false}}
      },
      "layer": [
        {
          "data": {"values": [{"i": 0.44}]},
          "mark": {"type": "point", "shape": "M-1,-0.55 H-0.22 V0.55 H-0.6 V-0.13 H-1 Z M-0.13,-0.33 a0.19,0.19 0 1 0 0.38,0 a0.19,0.19 0 1 0 -0.38,0 Z M0.3,-0.55 H1 L0.55,0.55 H-0.12 Z", "size": 600, "filled": true, "color": "#131722", "opacity": 1}
        },
        {
          "data": {"values": [{"i": 2.12, "name": "TradingView"}]},
          "mark": {"type": "text", "align": "left", "baseline": "middle", "fontSize": 16, "color": "#4a4d57"},
          "encoding": {"text": {"field": "name", "type": "nominal"}}
        }
      ]
    }
  ]
}
